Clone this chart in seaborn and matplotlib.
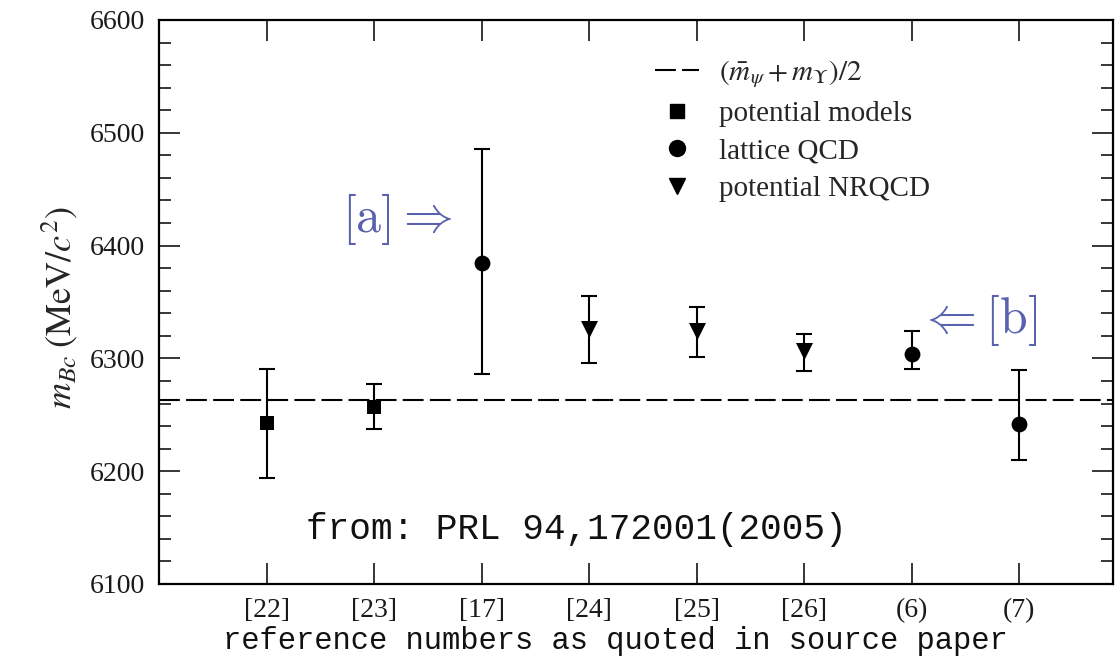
import numpy as np
import pandas as pd
import matplotlib
matplotlib.use("Agg")
import matplotlib.pyplot as plt
from matplotlib.lines import Line2D
from matplotlib.ticker import MultipleLocator
import seaborn as sns

# ---------------- data ----------------
refs = ["[22]", "[23]", "[17]", "[24]", "[25]", "[26]", "(6)", "(7)"]
methods = ["potential models", "potential models", "lattice QCD",
           "potential NRQCD", "potential NRQCD", "potential NRQCD",
           "lattice QCD", "lattice QCD"]
mass = [6243, 6257, 6385, 6326, 6324, 6307, 6304, 6242]
err_up = [48, 20, 101, 29, 22, 15, 20, 48]
err_down = [49, 20, 99, 30, 23, 18, 13, 32]
avg_mass = 6263          # (m_psi + m_Upsilon)/2
legend_labels = [r"$(\bar{m}_\psi + m_\Upsilon)/2$", "potential models",
                 "lattice QCD", "potential NRQCD"]

# ---------------- style ----------------
sns.set_theme(style="ticks")
plt.rcParams["font.family"] = ["Liberation Serif", "DejaVu Serif"]
plt.rcParams["mathtext.fontset"] = "stix"

W, H = 1115, 657
fig = plt.figure(figsize=(W / 100, H / 100), dpi=100)
ax = fig.add_axes([159 / W, (H - 584) / H, (1113 - 159) / W, (584 - 20) / H])

pos = np.arange(1, len(refs) + 1)
df = pd.DataFrame({"pos": pos, "mass": mass, "method": methods, "ref": refs})

# dashed average line
ax.axhline(avg_mass, color="black", lw=1.5, ls=(0, (10, 3)), zorder=1)

# error bars
ax.errorbar(df["pos"], df["mass"], yerr=[err_down, err_up], fmt="none",
            ecolor="black", elinewidth=1.5, capsize=6, capthick=1.5, zorder=2)

# markers
marker_map = {"potential models": "s", "lattice QCD": "o", "potential NRQCD": "v"}
size_map = {"potential models": 100, "lattice QCD": 130, "potential NRQCD": 150}
for m, sub in df.groupby("method"):
    sns.scatterplot(data=sub, x="pos", y="mass", marker=marker_map[m],
                    s=size_map[m], color="black", edgecolor="black",
                    linewidth=0, ax=ax, legend=False, zorder=3)

# axes
ax.set_xlim(0, 8.87)
ax.set_ylim(6100, 6600)
ax.set_xticks(pos)
ax.set_xticklabels(refs)
ax.yaxis.set_major_locator(MultipleLocator(100))
ax.yaxis.set_minor_locator(MultipleLocator(20))
ax.tick_params(axis="both", which="major", direction="in", length=15, width=1.3,
               labelsize=20, labelcolor="#1a1a1a", pad=10)
ax.tick_params(axis="y", which="minor", direction="in", length=8.5, width=1.3)
ax.tick_params(axis="x", which="minor", bottom=False, top=False)
ax.tick_params(top=True, right=True, which="both")
ax.tick_params(axis="y", which="both", right=True)
for sp in ax.spines.values():
    sp.set_linewidth(1.6)
    sp.set_color("black")

ax.set_xlabel("reference numbers as quoted in source paper",
              family="Liberation Mono", fontsize=22, color="#111111")
ax.xaxis.set_label_coords((615 - 159) / 954, (584 - 641) / 564)
ax.xaxis.label.set_va("center")

ax.set_ylabel(r"$m_{Bc}\;(\mathrm{MeV}/c^{2})$", fontsize=26)
ax.yaxis.set_label_coords((80 - 159) / 954, 0.49)

# text annotations
ax.text(3.88, 6148, "from: PRL 94,172001(2005)", family="Liberation Mono",
        fontsize=26, ha="center", va="center", color="#111111")
blue = "#5a62b0"
ax.text(2.217, 6424, r"$[\mathrm{a}]\Rightarrow$", math_fontfamily="cm",
        fontsize=36, ha="center", va="center", color=blue)
ax.text(7.607, 6334, r"$\Leftarrow[\mathrm{b}]$", math_fontfamily="cm",
        fontsize=36, ha="center", va="center", color=blue)

# legend
handles = [
    Line2D([], [], color="black", lw=1.5, ls=(0, (10, 3))),
    Line2D([], [], color="black", marker="s", ls="none", markersize=10),
    Line2D([], [], color="black", marker="o", ls="none", markersize=11.5),
    Line2D([], [], color="black", marker="v", ls="none", markersize=12),
]
ax.legend(handles, legend_labels, loc="upper left", frameon=False,
          bbox_to_anchor=(655 / W, 1 - 58 / H), bbox_transform=fig.transFigure,
          borderaxespad=0, borderpad=0, handlelength=1.5, handletextpad=0.7,
          labelspacing=0.38, fontsize=21)

fig.savefig("out.png", dpi=100)
